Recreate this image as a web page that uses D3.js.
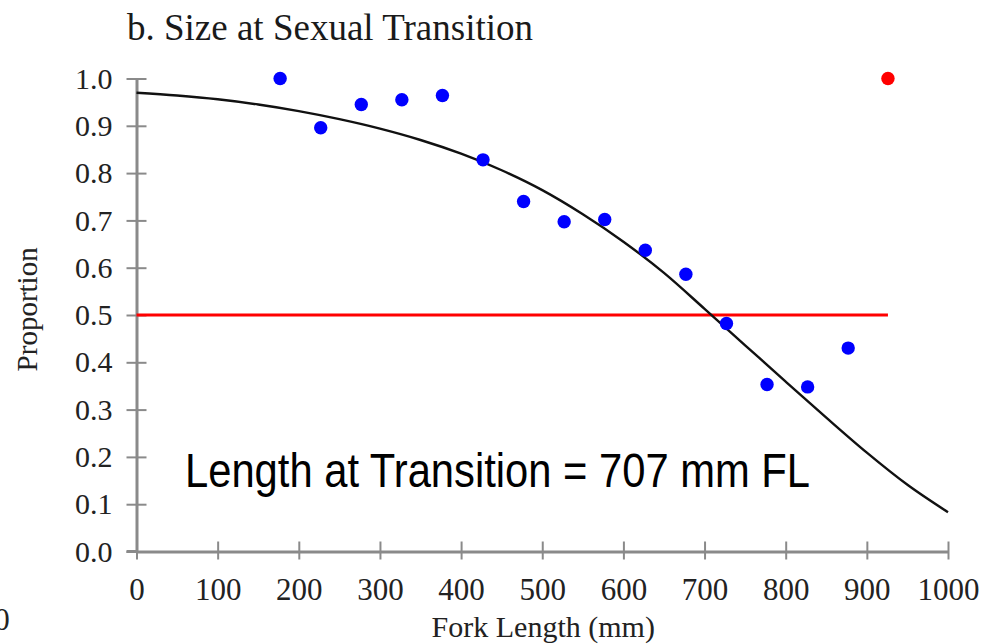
<!DOCTYPE html>
<html>
<head>
<meta charset="utf-8">
<script src="https://cdn.jsdelivr.net/npm/d3@7"></script>
<style>
  html, body { margin: 0; padding: 0; background: #fff; }
  svg { display: block; }
</style>
</head>
<body>
<svg id="chart" width="986" height="644"></svg>
<script>
// Observed proportion by fork-length bin (mm)
const binLengths = [177, 227, 277, 327, 377, 427, 477, 527, 577, 627, 677, 727, 777, 827, 877];
const binProportions = [1.0, 0.896, 0.945, 0.955, 0.964, 0.828, 0.740, 0.697, 0.702, 0.637, 0.586, 0.482, 0.353, 0.348, 0.430];

// Bin left out of the fit
const excludedLengths = [926];
const excludedProportions = [1.0];

// Fitted transition curve
const fitLengths = [0, 50, 100, 150, 200, 250, 300, 350, 400, 450, 500, 550, 600, 650, 700, 750, 800, 850, 900, 950, 1000];
const fitProportions = [0.970, 0.964, 0.956, 0.945, 0.931, 0.914, 0.894, 0.870, 0.841, 0.806, 0.764, 0.713, 0.655, 0.589, 0.513, 0.436, 0.359, 0.283, 0.209, 0.141, 0.083];

// 50% reference level
const refLevel = [0.5];
const refSpan = [0, 926];
const transitionLength = 707;

// Axis ticks
const xTicks = [0, 100, 200, 300, 400, 500, 600, 700, 800, 900, 1000];
const yTicks = [0, 0.1, 0.2, 0.3, 0.4, 0.5, 0.6, 0.7, 0.8, 0.9, 1.0];

const svg = d3.select("#chart");
const serif = "'Liberation Serif', 'Times New Roman', serif";
const sans = "'Liberation Sans', Arial, sans-serif";
const textColor = "#222";
const axisColor = "#8a8a8a";

const x = d3.scaleLinear().domain([0, 1000]).range([136.5, 948]);
const y = d3.scaleLinear().domain([0, 1]).range([551.5, 78.5]);

// Title
svg.append("text")
  .attr("x", 127).attr("y", 40)
  .attr("font-family", serif).attr("font-size", 37)
  .attr("fill", "#1a1a1a")
  .text("b. Size at Sexual Transition");

// Y axis
const yAxis = svg.append("g")
  .attr("transform", `translate(${x(0)},0)`)
  .call(d3.axisLeft(y).tickValues(yTicks).tickFormat(d3.format(".1f")).tickSizeOuter(0).tickSizeInner(10).tickPadding(14));
yAxis.select(".domain").attr("stroke", axisColor).attr("stroke-width", 3);
yAxis.selectAll(".tick line").attr("stroke", axisColor).attr("stroke-width", 2).attr("x1", -10).attr("x2", 10);
yAxis.selectAll(".tick text")
  .attr("font-family", serif).attr("font-size", 30).attr("fill", textColor)
  .attr("x", -24);

// X axis
const xAxis = svg.append("g")
  .attr("transform", `translate(0,${y(0)})`)
  .call(d3.axisBottom(x).tickValues(xTicks).tickFormat(d3.format("d")).tickSizeOuter(0).tickSizeInner(8));
xAxis.select(".domain").attr("stroke", axisColor).attr("stroke-width", 3);
xAxis.selectAll(".tick line").attr("stroke", axisColor).attr("stroke-width", 2).attr("y1", -10).attr("y2", 8);
xAxis.selectAll(".tick text")
  .attr("font-family", serif).attr("font-size", 31).attr("fill", textColor)
  .attr("y", 26.5);

// Extend the x axis line to meet the lowest y tick
svg.append("line")
  .attr("x1", x(0) - 10).attr("x2", x(0))
  .attr("y1", y(0)).attr("y2", y(0))
  .attr("stroke", axisColor).attr("stroke-width", 3);

// Axis titles
svg.append("text")
  .attr("x", (x(0) + x(1000)) / 2 + 1).attr("y", 637)
  .attr("text-anchor", "middle")
  .attr("font-family", serif).attr("font-size", 30).attr("fill", textColor)
  .text("Fork Length (mm)");

svg.append("text")
  .attr("transform", `translate(37,${(y(0.5) + y(0.6)) / 2 + 18}) rotate(-90)`)
  .attr("text-anchor", "middle")
  .attr("font-family", serif).attr("font-size", 29).attr("fill", textColor)
  .text("Proportion");

// Edge of neighbouring panel label
svg.append("text")
  .attr("x", 2).attr("y", 630)
  .attr("text-anchor", "middle")
  .attr("font-family", serif).attr("font-size", 31).attr("fill", textColor)
  .text("0");

// 50% reference line
svg.append("line")
  .attr("x1", x(refSpan[0])).attr("x2", x(refSpan[1]))
  .attr("y1", y(refLevel[0])).attr("y2", y(refLevel[0]))
  .attr("stroke", "#ff0000").attr("stroke-width", 3);

// Fitted curve
const fitData = fitLengths.map((d, i) => [d, fitProportions[i]]);
svg.append("path")
  .datum(fitData)
  .attr("fill", "none")
  .attr("stroke", "#111")
  .attr("stroke-width", 2.4)
  .attr("d", d3.line().x(d => x(d[0])).y(d => y(d[1])).curve(d3.curveMonotoneX));

// Observed points
svg.append("g").selectAll("circle")
  .data(binLengths.map((d, i) => [d, binProportions[i]]))
  .join("circle")
  .attr("cx", d => x(d[0])).attr("cy", d => y(d[1]))
  .attr("r", 6.7).attr("fill", "#0000ff");

svg.append("g").selectAll("circle")
  .data(excludedLengths.map((d, i) => [d, excludedProportions[i]]))
  .join("circle")
  .attr("cx", d => x(d[0])).attr("cy", d => y(d[1]))
  .attr("r", 6.7).attr("fill", "#ff0000");

// Annotation
svg.append("text")
  .attr("x", 185).attr("y", 487)
  .attr("font-family", sans).attr("font-size", 48).attr("fill", "#000")
  .attr("textLength", 625).attr("lengthAdjust", "spacingAndGlyphs")
  .text(`Length at Transition = ${transitionLength} mm FL`);
</script>
</body>
</html>
